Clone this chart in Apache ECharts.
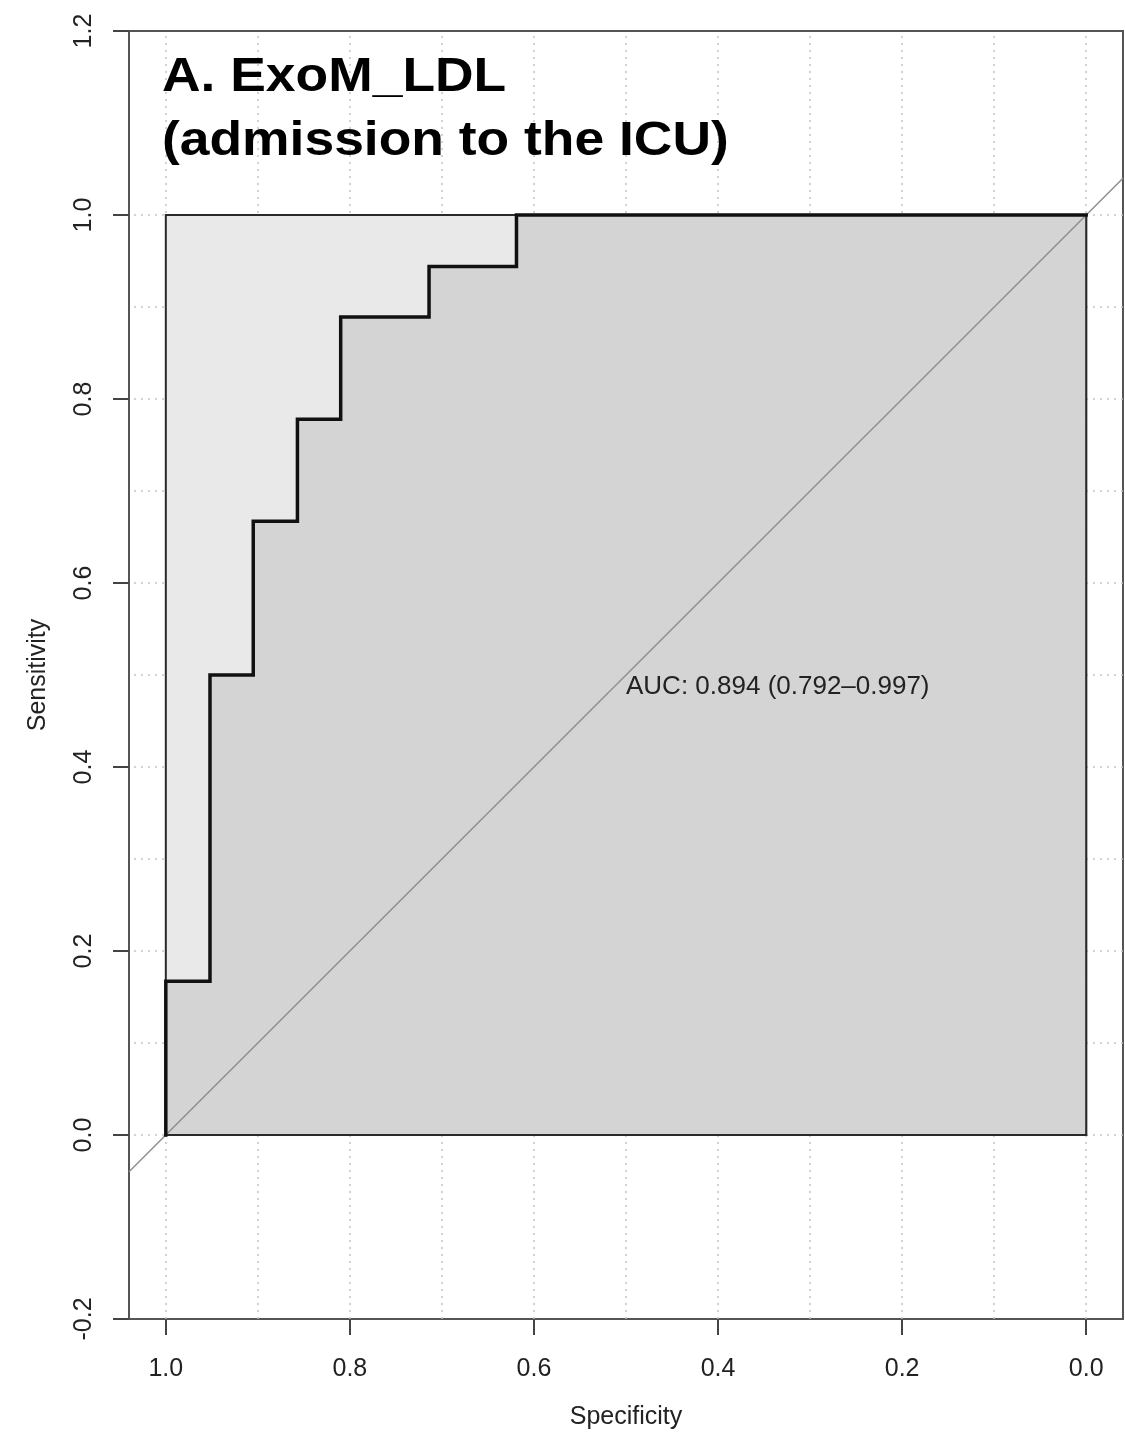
<!DOCTYPE html>
<html>
<head>
<meta charset="utf-8">
<script src="https://cdn.jsdelivr.net/npm/echarts@6/dist/echarts.min.js"></script>
<style>
  html, body { margin: 0; padding: 0; background: #ffffff; }
  #chart { width: 1125px; height: 1434px; }
</style>
</head>
<body>
<div id="chart"></div>
<script>
// ---- data ----
var specificity = [1.000, 1.000, 0.952, 0.952, 0.905, 0.905, 0.857, 0.857, 0.810, 0.810, 0.714, 0.714, 0.619, 0.619, 0.000];
var sensitivity = [0.000, 0.167, 0.167, 0.500, 0.500, 0.667, 0.667, 0.778, 0.778, 0.889, 0.889, 0.944, 0.944, 1.000, 1.000];
var maxAucSpec = [1, 0, 0, 1];
var maxAucSens = [1, 1, 0, 0];
var xTickValues = [0, 0.2, 0.4, 0.6, 0.8, 1.0];
var gridValues = [0, 0.1, 0.2, 0.3, 0.4, 0.5, 0.6, 0.7, 0.8, 0.9, 1.0];
var aucText = 'AUC: 0.894 (0.792\u20130.997)';
var aucTextPos = [0.5, 0.5];
var titleText = 'A. ExoM_LDL\n(admission to the ICU)';
var xMin = -0.04, xMax = 1.04, yMin = -0.2, yMax = 1.2;

var FONT = "'Liberation Sans', Arial, Helvetica, sans-serif";

function zip(a, b) { return a.map(function (v, i) { return [v, b[i]]; }); }
var rocPts = zip(specificity, sensitivity);
var aucPoly = rocPts.concat([[0, 0]]);
var maxPoly = zip(maxAucSpec, maxAucSens);

function polygonSeries(points, fill, z) {
  return {
    type: 'custom',
    z: z,
    silent: true,
    data: points,
    renderItem: function (params, api) {
      if (params.dataIndex !== 0) return null;
      var pts = points.map(function (p) { return api.coord(p); });
      return {
        type: 'polygon',
        shape: { points: pts },
        style: { fill: fill, stroke: '#2a2a2a', lineWidth: 2 }
      };
    }
  };
}

var chart = echarts.init(document.getElementById('chart'), null, { renderer: 'canvas' });

var option = {
  backgroundColor: '#ffffff',
  animation: false,
  grid: {
    left: 129, right: 2, top: 31, bottom: 115,
    containLabel: false,
    outerBoundsMode: 'none',
    show: true, borderColor: '#555555', borderWidth: 2, backgroundColor: 'transparent'
  },
  xAxis: {
    type: 'value',
    inverse: true,
    min: xMin, max: xMax,
    name: 'Specificity',
    nameLocation: 'middle',
    nameGap: 86,
    nameTextStyle: { fontFamily: FONT, fontSize: 25, color: '#222222' },
    axisLine: { show: true, onZero: false, lineStyle: { color: '#555555', width: 2 } },
    axisTick: { show: true, customValues: xTickValues, length: 16, lineStyle: { color: '#444444', width: 2 } },
    axisLabel: {
      customValues: xTickValues,
      margin: 38,
      fontFamily: FONT, fontSize: 25, color: '#222222',
      formatter: function (v) { return Number(v).toFixed(1); }
    },
    splitLine: { show: false }
  },
  yAxis: {
    type: 'value',
    min: yMin, max: yMax, interval: 0.2,
    name: 'Sensitivity',
    nameLocation: 'middle',
    nameGap: 78,
    nameTextStyle: { fontFamily: FONT, fontSize: 25, color: '#222222' },
    axisLine: { show: true, onZero: false, lineStyle: { color: '#555555', width: 2 } },
    axisTick: { show: true, length: 16, lineStyle: { color: '#444444', width: 2 } },
    axisLabel: {
      rotate: 90,
      margin: 32,
      fontFamily: FONT, fontSize: 25, color: '#222222',
      formatter: function (v) { return Number(v).toFixed(1); }
    },
    splitLine: { show: false }
  },
  series: [
    {
      type: 'line',
      z: 1,
      data: [],
      silent: true,
      markLine: {
        z: 1,
        silent: true,
        symbol: 'none',
        label: { show: false },
        lineStyle: { color: '#c4c4c4', type: [2, 5], width: 1.5 },
        data: gridValues.map(function (v) { return { xAxis: v }; })
          .concat(gridValues.map(function (v) { return { yAxis: v }; }))
      }
    },
    polygonSeries(maxPoly, '#e9e9e9', 2),
    polygonSeries(aucPoly, '#d4d4d4', 3),
    {
      type: 'line',
      z: 4,
      silent: true,
      symbol: 'none',
      data: [[xMax, 1 - xMax], [xMin, 1 - xMin]],
      lineStyle: { color: '#8f8f8f', width: 1.5 }
    },
    {
      type: 'line',
      z: 5,
      silent: true,
      symbol: 'none',
      data: rocPts,
      lineStyle: { color: '#111111', width: 3.5, join: 'miter', cap: 'square' }
    }
  ]
};
chart.setOption(option);

var p = chart.convertToPixel({ gridIndex: 0 }, aucTextPos);
chart.setOption({
  graphic: [
    {
      type: 'text',
      x: p[0], y: p[1] - 1,
      z: 10,
      style: { text: aucText, fontFamily: FONT, fontSize: 26, fill: '#222222', textAlign: 'left', textVerticalAlign: 'top' }
    },
    {
      type: 'text',
      x: 162, y: 45,
      scaleX: 1.09,
      z: 10,
      style: { text: titleText, fontFamily: FONT, fontSize: 49, fontWeight: 'bold', fill: '#000000', lineHeight: 64, textAlign: 'left', textVerticalAlign: 'top' }
    }
  ]
});
</script>
</body>
</html>
